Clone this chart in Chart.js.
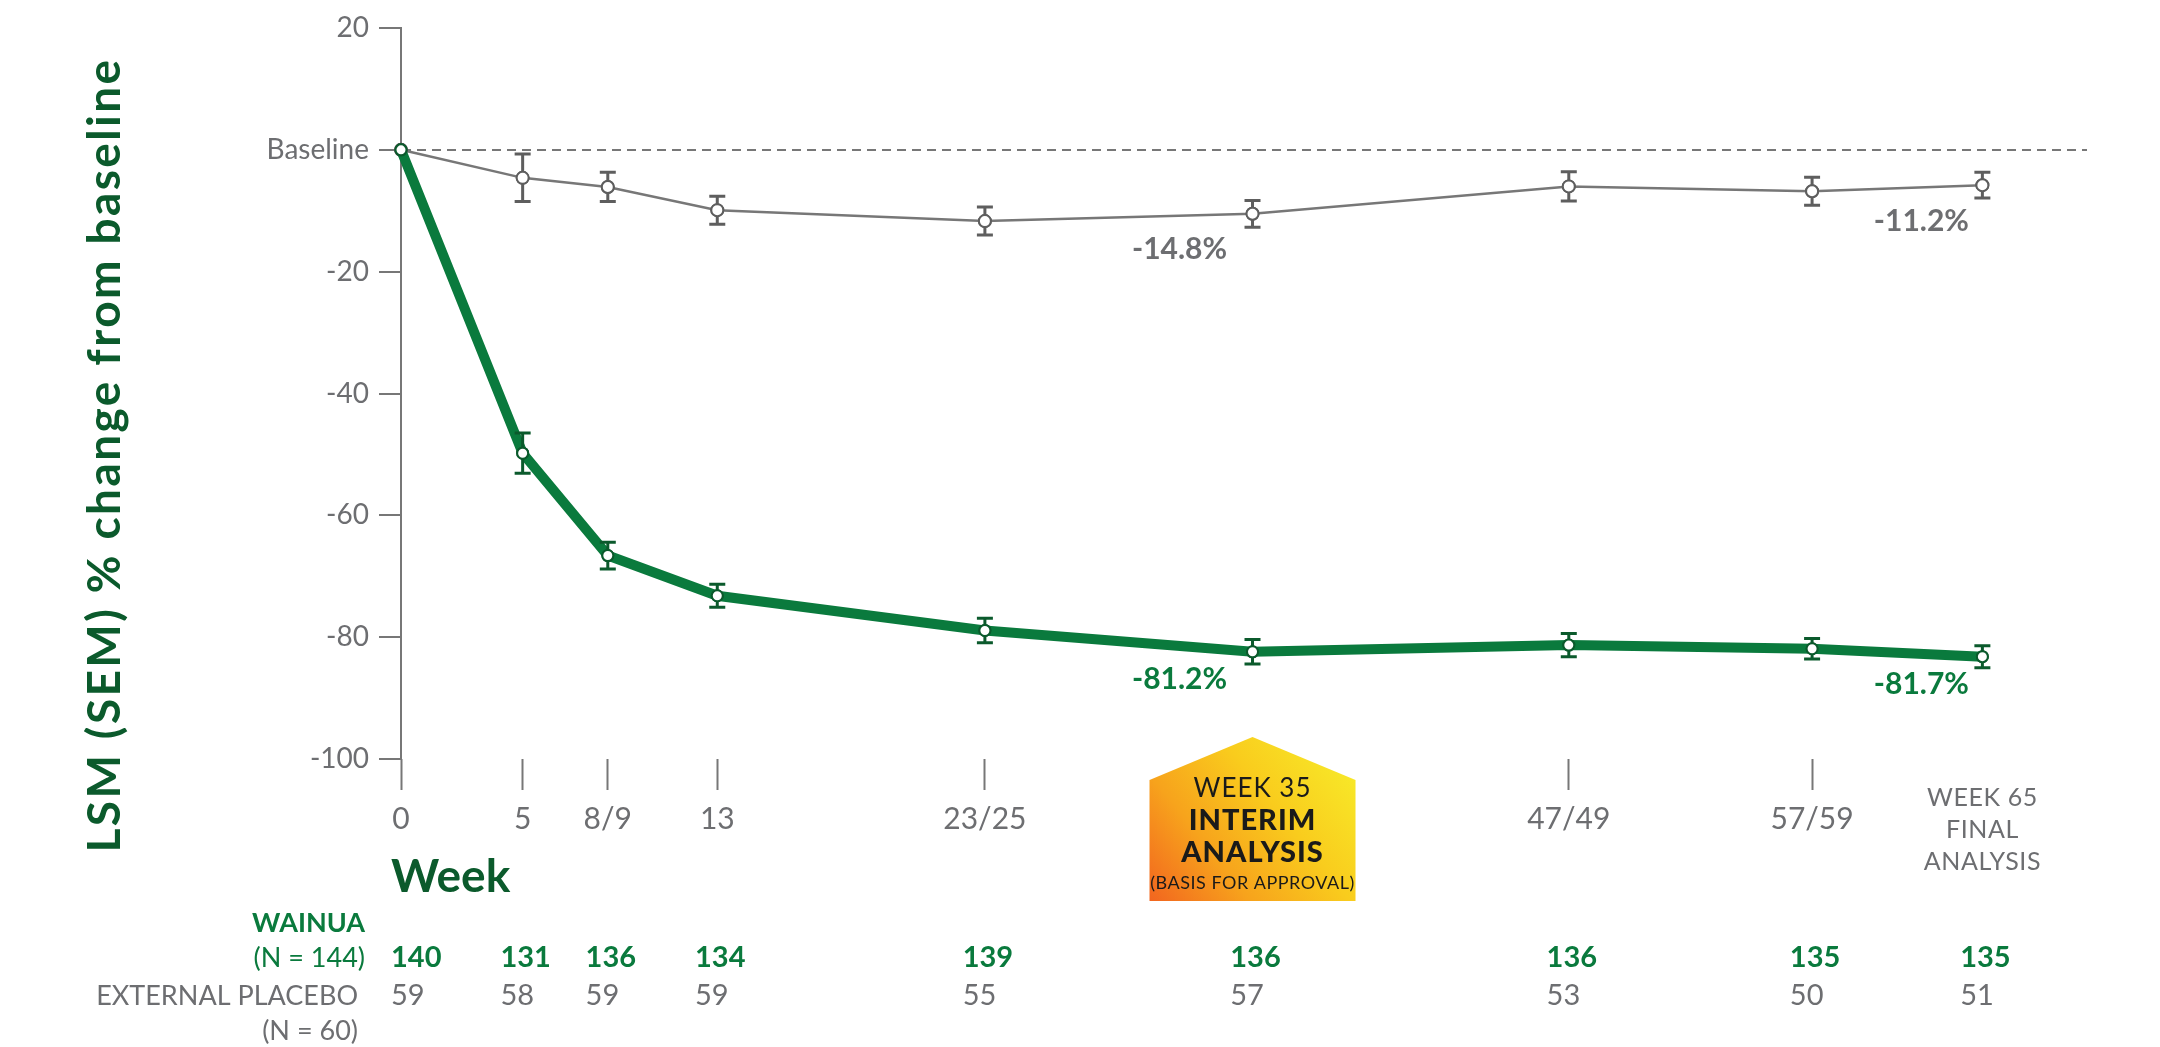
<!DOCTYPE html>
<html>
<head>
<meta charset="utf-8">
<script src="https://cdn.jsdelivr.net/npm/chart.js@4/dist/chart.umd.min.js"></script>
<style>
  html, body { margin: 0; padding: 0; background: #fff; }
</style>
</head>
<body>
<canvas id="chart" width="2160" height="1047"></canvas>
<script>
// x positions in weeks (8/9, 23/25, 47/49, 57/59 sit at their midpoints)
const weeks = [0, 5, 8.5, 13, 24, 35, 48, 58, 65];
const weekLabels = ['0', '5', '8/9', '13', '23/25', '', '47/49', '57/59', ''];

// LSM % change from baseline and SEM
const wainuaLsm = [0, -49.8, -66.6, -73.2, -78.9, -82.4, -81.3, -81.9, -83.2];
const wainuaSem = [0, 3.3, 2.2, 1.9, 2.0, 2.0, 1.9, 1.7, 1.8];
const placeboLsm = [0, -4.6, -6.1, -9.9, -11.7, -10.5, -6.0, -6.8, -5.8];
const placeboSem = [0, 3.9, 2.4, 2.3, 2.3, 2.2, 2.4, 2.3, 2.1];

// patients at each visit
const wainuaN = [140, 131, 136, 134, 139, 136, 136, 135, 135];
const placeboN = [59, 58, 59, 59, 55, 57, 53, 50, 51];

// callout text by week
const wainuaCallouts = { 35: '-81.2%', 65: '-81.7%' };
const placeboCallouts = { 35: '-14.8%', 65: '-11.2%' };

const interimLabel = ['WEEK 35', 'INTERIM', 'ANALYSIS', '(BASIS FOR APPROVAL)'];
const finalLabel = ['WEEK 65', 'FINAL', 'ANALYSIS'];

const GREEN = '#0a7a3d';
const DARK_GREEN = '#0b5a2c';
const GRAY = '#6d6e71';
const LINE_GRAY = '#777777';
const FONT = 'Lato, "Open Sans", sans-serif';

// error bars go over the line but under the white markers
const errorBars = {
    id: 'errorBars',
    afterDatasetDraw(chart, args) {
        const ds = chart.data.datasets[args.index];
        const y = chart.scales.y;
        const c = chart.ctx;
        c.save();
        c.strokeStyle = ds.errColor;
        c.lineWidth = 3;
        args.meta.data.forEach((pt, i) => {
            const s = ds.sem[i];
            if (!s) return;
            const v = ds.data[i].y;
            const top = y.getPixelForValue(v + s);
            const bot = y.getPixelForValue(v - s);
            c.beginPath();
            c.moveTo(pt.x, top); c.lineTo(pt.x, bot);
            c.moveTo(pt.x - 8, top); c.lineTo(pt.x + 8, top);
            c.moveTo(pt.x - 8, bot); c.lineTo(pt.x + 8, bot);
            c.stroke();
        });
        c.restore();
        args.meta.data.forEach(pt => pt.draw(c, chart.chartArea));
    }
};

// titles, callouts, the week 35 badge and the N table
const extras = {
    id: 'extras',
    afterDraw(chart) {
        const c = chart.ctx;
        const xs = chart.scales.x;

        c.save();
        c.translate(105, 455);
        c.rotate(-Math.PI / 2);
        c.font = 'bold 46px ' + FONT;
        c.letterSpacing = '2.4px';
        c.fillStyle = DARK_GREEN;
        c.textAlign = 'center';
        c.textBaseline = 'middle';
        c.fillText('LSM (SEM) % change from baseline', 0, 0);
        c.restore();

        c.save();
        c.font = 'bold 46px ' + FONT;
        c.fillStyle = DARK_GREEN;
        c.textBaseline = 'middle';
        c.fillText('Week', 391, 877);

        // callouts next to the week 35 and 65 markers
        c.font = 'bold 30px ' + FONT;
        c.textAlign = 'center';
        [[0, wainuaCallouts, GREEN, 28], [1, placeboCallouts, GRAY, 36]].forEach(([di, map, col, dy]) => {
            const meta = chart.getDatasetMeta(di);
            weeks.forEach((w, i) => {
                if (!map[w]) return;
                const pt = meta.data[i];
                c.fillStyle = col;
                c.fillText(map[w], pt.x + (w === 35 ? -73 : -61), pt.y + dy);
            });
        });

        // week 35 badge
        const bx = xs.getPixelForValue(35);
        const g = c.createLinearGradient(bx - 103, 901, bx + 103, 738);
        g.addColorStop(0, '#f2651f');
        g.addColorStop(0.3, '#f7a31c');
        g.addColorStop(0.6, '#f9cc1d');
        g.addColorStop(1, '#f7f02b');
        c.fillStyle = g;
        c.beginPath();
        c.moveTo(bx - 103, 780);
        c.lineTo(bx, 737);
        c.lineTo(bx + 103, 780);
        c.lineTo(bx + 103, 901);
        c.lineTo(bx - 103, 901);
        c.closePath();
        c.fill();
        c.fillStyle = '#1a1a1a';
        c.letterSpacing = '1px';
        c.font = '26px ' + FONT;
        c.fillText(interimLabel[0], bx, 789);
        c.font = '900 29px ' + FONT;
        c.fillText(interimLabel[1], bx, 821);
        c.fillText(interimLabel[2], bx, 853);
        c.font = '18px ' + FONT;
        c.letterSpacing = '0.5px';
        c.fillText(interimLabel[3], bx, 883);
        c.letterSpacing = '0px';

        // week 65 label
        const fx = xs.getPixelForValue(65);
        c.fillStyle = GRAY;
        c.font = '25px ' + FONT;
        c.letterSpacing = '0.6px';
        finalLabel.forEach((t, i) => c.fillText(t, fx, 798 + i * 32));
        c.letterSpacing = '0px';

        // N table
        c.textAlign = 'right';
        c.fillStyle = GREEN;
        c.font = 'bold 27px ' + FONT;
        c.fillText('WAINUA', 365, 923);
        c.font = '27px ' + FONT;
        c.fillText('(N = 144)', 365, 958);
        c.fillStyle = GRAY;
        c.fillText('EXTERNAL PLACEBO', 358, 996);
        c.fillText('(N = 60)', 358, 1031);

        c.textAlign = 'left';
        weeks.forEach((w, i) => {
            const px = xs.getPixelForValue(w);
            c.font = 'bold 29px ' + FONT;
            const wWidth = c.measureText(String(wainuaN[i])).width;
            const left = i === 0 ? px - 10 : px - wWidth / 2 + 3;
            c.fillStyle = GREEN;
            c.fillText(String(wainuaN[i]), left, 958);
            c.font = '29px ' + FONT;
            c.fillStyle = GRAY;
            c.fillText(String(placeboN[i]), left, 996);
        });
        c.restore();
    }
};

const ctx = document.getElementById('chart').getContext('2d');
new Chart(ctx, {
    type: 'line',
    data: {
        datasets: [
            {
                label: 'WAINUA',
                data: weeks.map((w, i) => ({ x: w, y: wainuaLsm[i] })),
                sem: wainuaSem,
                errColor: DARK_GREEN,
                borderColor: GREEN,
                borderWidth: 10,
                pointRadius: 5.5,
                pointBorderWidth: 2,
                pointBackgroundColor: '#fff',
                pointBorderColor: DARK_GREEN,
                clip: false
            },
            {
                label: 'EXTERNAL PLACEBO',
                data: weeks.map((w, i) => ({ x: w, y: placeboLsm[i] })),
                sem: placeboSem,
                errColor: '#5e5e5e',
                borderColor: LINE_GRAY,
                borderWidth: 2.5,
                pointRadius: 6,
                pointBorderWidth: 2,
                pointBackgroundColor: '#fff',
                pointBorderColor: '#5e5e5e',
                clip: false
            }
        ]
    },
    options: {
        responsive: false,
        devicePixelRatio: 1,
        animation: false,
        layout: { padding: { top: 28, right: 73, left: 0, bottom: 0 } },
        plugins: {
            legend: { display: false },
            tooltip: { enabled: false }
        },
        scales: {
            x: {
                type: 'linear',
                min: 0,
                max: 69.3,
                afterBuildTicks: s => { s.ticks = weeks.map(v => ({ value: v })); },
                afterFit: s => { s.height = 288; },
                ticks: {
                    autoSkip: false,
                    maxRotation: 0,
                    callback: (v, i) => weekLabels[i],
                    color: GRAY,
                    font: { family: FONT, size: 30 },
                    padding: 11
                },
                grid: {
                    drawOnChartArea: false,
                    tickLength: 31,
                    tickWidth: 2,
                    tickColor: c => (weekLabels[c.index] ? LINE_GRAY : 'rgba(0,0,0,0)')
                },
                border: { display: false }
            },
            y: {
                min: -100,
                max: 20,
                afterFit: s => { s.width = 401; },
                ticks: {
                    stepSize: 20,
                    callback: v => (v === 0 ? 'Baseline' : v),
                    color: GRAY,
                    font: { family: FONT, size: 28 },
                    padding: 10
                },
                grid: {
                    color: c => (c.tick && c.tick.value === 0 ? LINE_GRAY : 'rgba(0,0,0,0)'),
                    lineWidth: 2,
                    tickColor: LINE_GRAY,
                    tickLength: 22,
                    tickWidth: 2,
                    tickBorderDash: []
                },
                border: { display: true, color: LINE_GRAY, width: 2, dash: [9, 6] }
            }
        }
    },
    plugins: [errorBars, extras]
});
</script>
</body>
</html>
